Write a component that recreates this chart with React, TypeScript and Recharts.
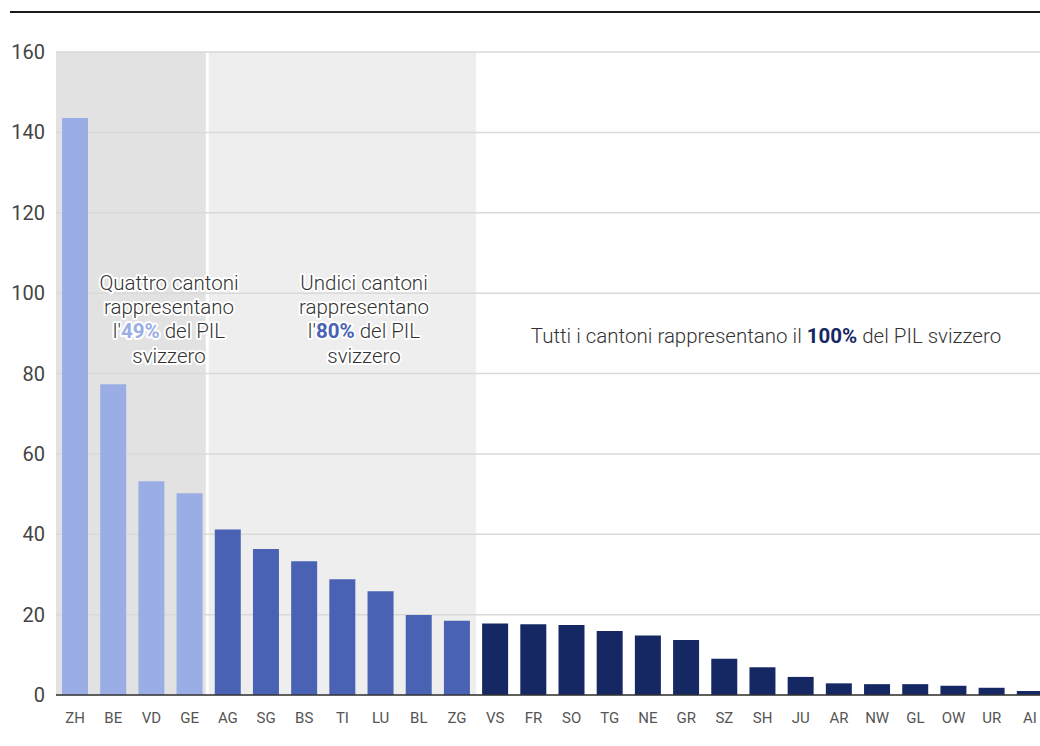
import React from "react";
import {
  BarChart,
  Bar,
  Cell,
  XAxis,
  YAxis,
  CartesianGrid,
  ReferenceArea,
} from "recharts";

// cantons sorted by GDP (bn CHF)
const cantons = [
  "ZH", "BE", "VD", "GE", "AG", "SG", "BS", "TI", "LU", "BL", "ZG", "VS", "FR",
  "SO", "TG", "NE", "GR", "SZ", "SH", "JU", "AR", "NW", "GL", "OW", "UR", "AI",
];
const gdp = [
  143.6, 77.3, 53.2, 50.2, 41.2, 36.3, 33.3, 28.8, 25.8, 19.9, 18.5, 17.8, 17.6,
  17.4, 15.9, 14.8, 13.7, 9.0, 6.9, 4.5, 2.9, 2.7, 2.7, 2.3, 1.8, 1.0,
];
// 0 = first 4 cantons (49%), 1 = up to 11 cantons (80%), 2 = the rest
const groups = [0, 0, 0, 0, 1, 1, 1, 1, 1, 1, 1, 2, 2, 2, 2, 2, 2, 2, 2, 2, 2, 2, 2, 2, 2, 2];
const groupColors = ["#9aaee5", "#4a62b3", "#162863"];
const yTicks = [0, 20, 40, 60, 80, 100, 120, 140, 160];

const data = cantons.map((c, i) => ({ canton: c, gdp: gdp[i], group: groups[i] }));

const FONT = "Roboto, 'Noto Sans', sans-serif";

// first shaded block, with a white gap on its right edge
const FirstBlock = (props: any) => {
  const { x, y, width, height } = props;
  return <rect x={x} y={y} width={width - 3} height={height} fill="#e2e2e2" />;
};

const haloStyle: React.CSSProperties = {
  paintOrder: "stroke",
  stroke: "#fff",
  strokeWidth: 4,
  strokeLinejoin: "round",
};

export default function App() {
  return (
    <div
      style={{
        position: "relative",
        width: 1032,
        height: 730,
        marginLeft: 8,
        marginTop: 8,
        overflow: "hidden",
        fontFamily: FONT,
        background: "#fff",
      }}
    >
      <style>{`html, body { margin: 0; padding: 0; overflow: hidden; }`}</style>
      <div
        style={{
          position: "absolute",
          top: 3,
          left: 2,
          right: 0,
          height: 2,
          background: "#1a1a1a",
        }}
      />
      <BarChart
        width={1060}
        height={730}
        data={data}
        margin={{ top: 44, right: 19, left: 0, bottom: 0 }}
      >
        <ReferenceArea
          x1="ZH"
          x2="GE"
          shape={<FirstBlock />}
          ifOverflow="visible"
          zIndex={-200}
        />
        <ReferenceArea
          x1="AG"
          x2="ZG"
          fill="#eeeeee"
          fillOpacity={1}
          stroke="none"
          zIndex={-200}
        />
        <CartesianGrid vertical={false} stroke="#d9d9d9" strokeWidth={1.5} />
        <XAxis
          dataKey="canton"
          interval={0}
          height={43}
          tickLine={false}
          tickSize={0}
          tickMargin={17}
          axisLine={{ stroke: "#333", strokeWidth: 1.5 }}
          tick={{ fontSize: 15, fill: "#555", fontFamily: FONT }}
        />
        <YAxis
          width={48}
          domain={[0, 160]}
          ticks={yTicks}
          axisLine={false}
          tickLine={false}
          tickSize={0}
          tickMargin={11}
          tick={{ fontSize: 20, fill: "#444", fontFamily: FONT }}
        />
        <Bar dataKey="gdp" barSize={26} isAnimationActive={false}>
          {data.map((d) => (
            <Cell key={d.canton} fill={groupColors[d.group]} />
          ))}
        </Bar>
      </BarChart>
      <svg
        width={1032}
        height={730}
        style={{ position: "absolute", left: 0, top: 0, pointerEvents: "none" }}
      >
        <g fontFamily={FONT} fontSize={20.5} fill="#333" fontWeight={300} textAnchor="middle" style={haloStyle}>
          <text x={161} y={282}>Quattro cantoni</text>
          <text x={161} y={306}>rappresentano</text>
          <text x={161} y={330}>
            l'<tspan fill={groupColors[0]} fontWeight={700}>49%</tspan> del PIL
          </text>
          <text x={161} y={355}>svizzero</text>

          <text x={356} y={282}>Undici cantoni</text>
          <text x={356} y={306}>rappresentano</text>
          <text x={356} y={330}>
            l'<tspan fill={groupColors[1]} fontWeight={700}>80%</tspan> del PIL
          </text>
          <text x={356} y={355}>svizzero</text>

          <text x={758} y={335}>
            Tutti i cantoni rappresentano il{" "}
            <tspan fill={groupColors[2]} fontWeight={700}>100%</tspan> del PIL svizzero
          </text>
        </g>
      </svg>
    </div>
  );
}
